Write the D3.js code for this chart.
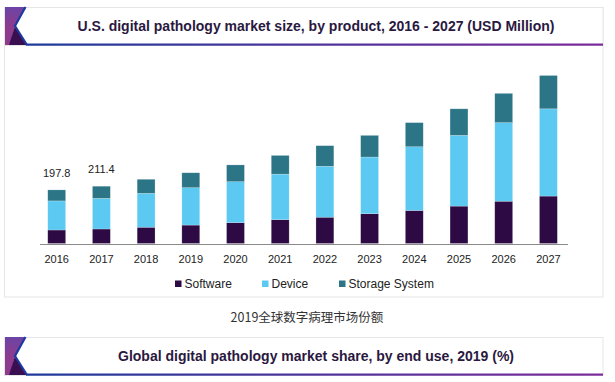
<!DOCTYPE html>
<html><head><meta charset="utf-8">
<script src="https://cdn.jsdelivr.net/npm/d3@7/dist/d3.min.js"></script>
<style>html,body{margin:0;padding:0;background:#fff;}svg{display:block;}</style>
</head><body>
<script>
const years = ["2016","2017","2018","2019","2020","2021","2022","2023","2024","2025","2026","2027"];
const software = [49.8, 53.5, 60, 68, 77, 88, 97, 110, 122, 138, 156, 175];
const device = [107.4, 113, 125, 138, 151, 168, 188, 209, 235, 261, 290, 322];
const storage = [40.6, 44.9, 52, 55, 62, 69, 76, 80, 89, 98, 108, 123];
const seriesNames = ["Software", "Device", "Storage System"];
const seriesColors = ["#2d0a43", "#5bc9f1", "#2b7587"];
const valueLabels = ["197.8", "211.4"];
const title1 = "U.S. digital pathology market size, by product, 2016 - 2027 (USD Million)";
const caption = "2019全球数字病理市场份额";
const title2 = "Global digital pathology market share, by end use, 2019 (%)";

const W = 615, H = 382;
const svg = d3.select("body").append("svg").attr("width", W).attr("height", H);
const defs = svg.append("defs");
const lg = defs.append("linearGradient").attr("id","lineg").attr("x1","0").attr("x2","1").attr("y1","0").attr("y2","0");
lg.append("stop").attr("offset","0").attr("stop-color","#1d3a9e");
lg.append("stop").attr("offset","1").attr("stop-color","#7d2b9c");
const pg = defs.append("linearGradient").attr("id","purpg").attr("x1","0").attr("x2","0").attr("y1","0").attr("y2","1");
pg.append("stop").attr("offset","0").attr("stop-color","#6c44a6");
pg.append("stop").attr("offset","1").attr("stop-color","#8e3a8e");

// panel border
svg.append("rect").attr("x",4.5).attr("y",7.5).attr("width",598.5).attr("height",289.5)
  .attr("fill","none").attr("stroke","#e6e6e6").attr("stroke-width",1);

function header(y0, y1, text) {
  const g = svg.append("g");
  g.append("rect").attr("x",4.5).attr("y",y0+0.5).attr("width",598.5).attr("height",y1-y0)
    .attr("fill","#fff").attr("stroke","#e6e6e6");
  const mid = (y0 + y1) / 2;
  g.append("path").attr("d",`M5,${y0} L25,${y0} L15,${mid+1} L5,${mid+1} Z`).attr("fill","url(#purpg)");
  g.append("path").attr("d",`M5,${mid} L15,${mid} L10,${y1} L5,${y1} Z`).attr("fill","#8e3a8e");
  g.append("path").attr("d",`M15,${mid} L27,${y1} L9,${y1} Z`).attr("fill","#3a0f52");
  g.append("path").attr("d",`M25.5,${y0} L15,${mid} L27,${y1}`).attr("fill","none")
    .attr("stroke","#1d3a9e").attr("stroke-width",2.2);
  g.append("rect").attr("x",26).attr("y",y1-1.5).attr("width",577).attr("height",2.2).attr("fill","url(#lineg)");
  g.append("text").attr("x",316).attr("y",mid+5).attr("text-anchor","middle")
    .attr("font-family","Liberation Sans, Arial, sans-serif").attr("font-weight","bold")
    .attr("font-size",14).attr("fill","#2a1840").text(text);
}
header(7, 45, title1);

const x = d3.scaleBand().domain(years).range([34.35, 570.75]).paddingInner(0.6).paddingOuter(0.3);
const y = d3.scaleLinear().domain([0, 700]).range([243.5, 243.5 - 700*0.271]);

const data = years.map((yr, i) => ({year: yr, Software: software[i], Device: device[i], "Storage System": storage[i]}));
const stack = d3.stack().keys(seriesNames)(data);

const color = d3.scaleOrdinal().domain(seriesNames).range(seriesColors);
svg.append("g").selectAll("g").data(stack).join("g").attr("fill", d => color(d.key))
  .selectAll("rect").data(d => d).join("rect")
  .attr("x", d => x(d.data.year)).attr("width", x.bandwidth())
  .attr("y", d => y(d[1])).attr("height", d => y(d[0]) - y(d[1]))
  .attr("stroke","#ffffff").attr("stroke-opacity",0.35).attr("stroke-width",0.6);

// axis
const axisG = svg.append("g").attr("transform", `translate(0,${y(0)+0.5})`)
  .call(d3.axisBottom(x).tickSize(0).tickPadding(11));
axisG.select(".domain").attr("d","M40,0.5H568").attr("stroke","#8a8a8a").attr("stroke-width",1.2);
axisG.selectAll("text").attr("font-family","Liberation Sans, Arial, sans-serif").attr("font-size",11).attr("fill","#222");

// value labels
valueLabels.forEach((lab, i) => {
  const total = software[i] + device[i] + storage[i];
  svg.append("text").attr("x", x(years[i]) + x.bandwidth()/2).attr("y", y(total) - 13)
    .attr("text-anchor","middle").attr("font-family","Liberation Sans, Arial, sans-serif")
    .attr("font-size",11).attr("fill","#222").text(lab);
});

// legend
const legX = [175, 262, 339];
seriesNames.forEach((n, i) => {
  svg.append("rect").attr("x", legX[i]).attr("y", 280.5).attr("width", 6.5).attr("height", 6.5).attr("fill", seriesColors[i]);
  svg.append("text").attr("x", legX[i] + 9.5).attr("y", 287.5).attr("font-family","Liberation Sans, Arial, sans-serif")
    .attr("font-size",12).attr("fill","#222").text(n);
});

// caption
svg.append("text").attr("x",307).attr("y",322).attr("text-anchor","middle")
  .attr("font-family","Noto Sans CJK SC, sans-serif").attr("font-size",12.5).attr("fill","#333").text(caption);

header(337, 375, title2);
</script>
</body></html>
